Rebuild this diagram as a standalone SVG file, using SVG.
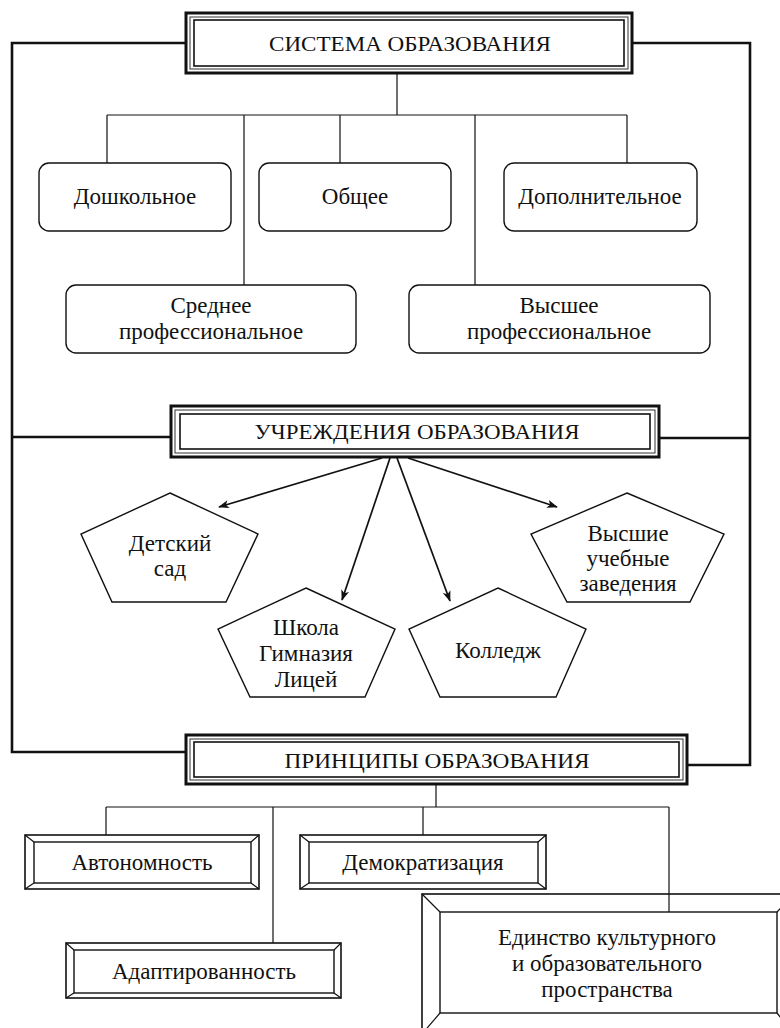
<svg xmlns="http://www.w3.org/2000/svg" width="780" height="1028" viewBox="0 0 780 1028" font-family="'Liberation Serif', 'DejaVu Serif', serif">
<style>
text{font-family:'Liberation Serif','DejaVu Serif',serif;fill:#111;text-anchor:middle}
.t{font-size:23px}
.h{font-size:22px}
.frame{fill:none;stroke:#111;stroke-width:2.6}
.thin{fill:none;stroke:#111;stroke-width:1.2}
.arr{fill:none;stroke:#111;stroke-width:1.7;marker-end:url(#ah)}
.rr{fill:#fff;stroke:#111;stroke-width:1.4}
.pent{fill:#fff;stroke:#111;stroke-width:1.4}
.ho{fill:#fff;stroke:#111;stroke-width:3}
.hm{fill:none;stroke:#333;stroke-width:1}
.hi{fill:#fff;stroke:#111;stroke-width:1.6}
.bo{fill:#fff;stroke:#111;stroke-width:1.6}
.bi{fill:none;stroke:#111;stroke-width:1.4}
.bd{stroke:#111;stroke-width:1.2}
</style>
<defs>
<marker id="ah" viewBox="0 0 12 10" refX="11" refY="5" markerWidth="12" markerHeight="9" orient="auto" markerUnits="userSpaceOnUse">
<path d="M0,0.5 L12,5 L0,9.5 L3,5 Z" fill="#111"/>
</marker>
</defs>
<rect width="780" height="1028" fill="#fff"/>

<g id="connectors">
<path class="frame" d="M186,43 H12 V752 H186"/>
<path class="frame" d="M632,43 H750 V765 H687"/>
<path class="frame" d="M12,437 H171"/>
<path class="frame" d="M659,438 H750"/>
<path class="thin" d="M397,73 V115 M107,115 H627 M107,115 V163 M244,115 V285 M340,115 V163 M475,115 V285 M627,115 V163"/>
<path class="arr" d="M382,458 L219,507"/>
<path class="arr" d="M390,458 L342,600"/>
<path class="arr" d="M397,458 L450,601"/>
<path class="arr" d="M408,458 L557,507"/>
<path class="thin" d="M436,784 V807 M106,807 H669 M106,807 V835 M273,807 V944 M423,807 V835 M669,807 V912"/>
</g>

<g id="sistema">
<rect class="ho" x="186" y="13" width="446" height="60"/>
<rect class="hm" x="190" y="17" width="438" height="52"/>
<rect class="hi" x="194" y="20" width="430" height="46"/>
<text class="h" x="410" y="51" textLength="282" lengthAdjust="spacingAndGlyphs">СИСТЕМА ОБРАЗОВАНИЯ</text>
</g>

<g id="doshkolnoe"><rect class="rr" x="39" y="163" width="192" height="68" rx="10"/><text class="t" x="135" y="204">Дошкольное</text></g>
<g id="obshchee"><rect class="rr" x="259" y="163" width="192" height="68" rx="10"/><text class="t" x="355" y="204">Общее</text></g>
<g id="dopolnitelnoe"><rect class="rr" x="504" y="163" width="193" height="68" rx="10"/><text class="t" x="600" y="204">Дополнительное</text></g>
<g id="srednee"><rect class="rr" x="66" y="285" width="290" height="68" rx="10"/><text class="t" x="211" y="313">Среднее</text><text class="t" x="211" y="339">профессиональное</text></g>
<g id="vysshee"><rect class="rr" x="409" y="285" width="301" height="68" rx="10"/><text class="t" x="559" y="313">Высшее</text><text class="t" x="559" y="339">профессиональное</text></g>

<g id="uchrezhdeniya">
<rect class="ho" x="171" y="406" width="488" height="51"/>
<rect class="hm" x="175" y="410" width="480" height="43"/>
<rect class="hi" x="180" y="414" width="470" height="35"/>
<text class="h" x="417" y="439" textLength="325" lengthAdjust="spacingAndGlyphs">УЧРЕЖДЕНИЯ ОБРАЗОВАНИЯ</text>
</g>

<g id="detsad"><polygon class="pent" points="170,493 258,534 226,602 112,602 81,534"/><text class="t" x="170" y="551">Детский</text><text class="t" x="170" y="576">сад</text></g>
<g id="shkola"><polygon class="pent" points="306,588 395,629 365,697 250,697 218,629"/><text class="t" x="306" y="635">Школа</text><text class="t" x="306" y="661">Гимназия</text><text class="t" x="306" y="687">Лицей</text></g>
<g id="kolledzh"><polygon class="pent" points="498,588 586,629 556,697 440,697 409,629"/><text class="t" x="498" y="658">Колледж</text></g>
<g id="vuz"><polygon class="pent" points="627,493 724,534 690,602 567,602 531,534"/><text class="t" x="628" y="541">Высшие</text><text class="t" x="628" y="566">учебные</text><text class="t" x="628" y="591">заведения</text></g>

<g id="printsipy">
<rect class="ho" x="186" y="735" width="501" height="49"/>
<rect class="hm" x="190" y="739" width="493" height="41"/>
<rect class="hi" x="194" y="742" width="485" height="35"/>
<text class="h" x="437" y="768" textLength="305" lengthAdjust="spacingAndGlyphs">ПРИНЦИПЫ ОБРАЗОВАНИЯ</text>
</g>

<g id="avtonomnost">
<rect class="bo" x="25" y="835" width="234" height="54"/>
<rect class="bi" x="34" y="842" width="217" height="41"/>
<path class="bd" d="M25,835 L34,842 M259,835 L251,842 M25,889 L34,883 M259,889 L251,883"/>
<text class="t" x="142" y="870">Автономность</text>
</g>
<g id="demokratizatsiya">
<rect class="bo" x="300" y="835" width="246" height="54"/>
<rect class="bi" x="309" y="842" width="229" height="41"/>
<path class="bd" d="M300,835 L309,842 M546,835 L538,842 M300,889 L309,883 M546,889 L538,883"/>
<text class="t" x="423" y="870">Демократизация</text>
</g>
<g id="adaptirovannost">
<rect class="bo" x="66" y="943" width="275" height="55"/>
<rect class="bi" x="74" y="950" width="260" height="43"/>
<path class="bd" d="M66,943 L74,950 M341,943 L334,950 M66,998 L74,993 M341,998 L334,993"/>
<text class="t" x="204" y="979">Адаптированность</text>
</g>
<g id="edinstvo">
<rect class="bo" x="422" y="894" width="372" height="140"/>
<rect class="bi" x="440" y="912" width="337" height="101"/>
<path class="bd" d="M422,894 L440,912 M794,894 L777,912 M422,1034 L440,1013 M794,1034 L777,1013"/>
<path class="thin" d="M669,894 V912"/>
<text class="t" x="607" y="945">Единство культурного</text>
<text class="t" x="607" y="971">и образовательного</text>
<text class="t" x="607" y="997">пространства</text>
</g>
</svg>
